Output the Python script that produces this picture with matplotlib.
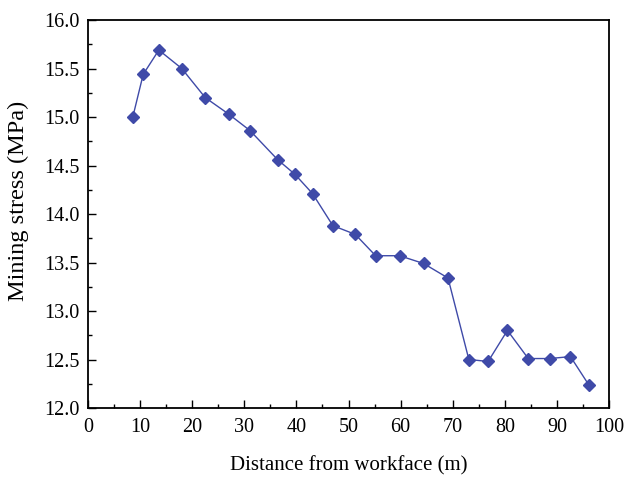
import matplotlib as mpl
mpl.use('Agg')
import matplotlib.pyplot as plt
from matplotlib.ticker import MultipleLocator

# distance from workface (m) and mining stress (MPa)
distance = [8.6, 10.6, 13.6, 18.0, 22.5, 27.0, 31.1, 36.4, 39.7, 43.1, 47.0,
            51.3, 55.2, 59.8, 64.4, 69.1, 73.1, 76.8, 80.5, 84.5, 88.6, 92.6, 96.1]
stress = [15.00, 15.44, 15.69, 15.50, 15.20, 15.03, 14.86, 14.56, 14.41, 14.21, 13.88,
          13.79, 13.57, 13.57, 13.49, 13.34, 12.50, 12.48, 12.80, 12.51, 12.51, 12.53, 12.24]

plt.rcParams['font.family'] = ['Liberation Serif', 'DejaVu Serif']

fig = plt.figure(figsize=(6.24, 4.82), dpi=100)
ax = fig.add_axes([0.141, 0.1535, 0.835, 0.805])

color = '#3f4aa8'
ax.plot(distance, stress, color=color, lw=1.0, marker='D', markersize=6,
        markerfacecolor=color, markeredgecolor=color)

ax.set_xlim(0, 100)
ax.set_ylim(12.0, 16.0)
ax.xaxis.set_major_locator(MultipleLocator(10))
ax.xaxis.set_minor_locator(MultipleLocator(5))
ax.yaxis.set_major_locator(MultipleLocator(0.5))
ax.yaxis.set_minor_locator(MultipleLocator(0.25))
ax.yaxis.set_major_formatter(mpl.ticker.FormatStrFormatter('%.1f'))
ax.tick_params(which='both', direction='in', labelsize=14.5, width=1.0)
ax.tick_params(which='major', length=6)
ax.tick_params(which='minor', length=3)
ax.tick_params(axis='x', pad=7)
ax.tick_params(axis='y', pad=6)
for s in ax.spines.values():
    s.set_linewidth(1.3)

ax.set_xlabel('Distance from workface (m)', fontsize=15, labelpad=14)
ax.set_ylabel('Mining stress (MPa)', fontsize=17.5)
ax.yaxis.set_label_coords(-0.113, 0.535)

fig.savefig('out.png', dpi=100)
